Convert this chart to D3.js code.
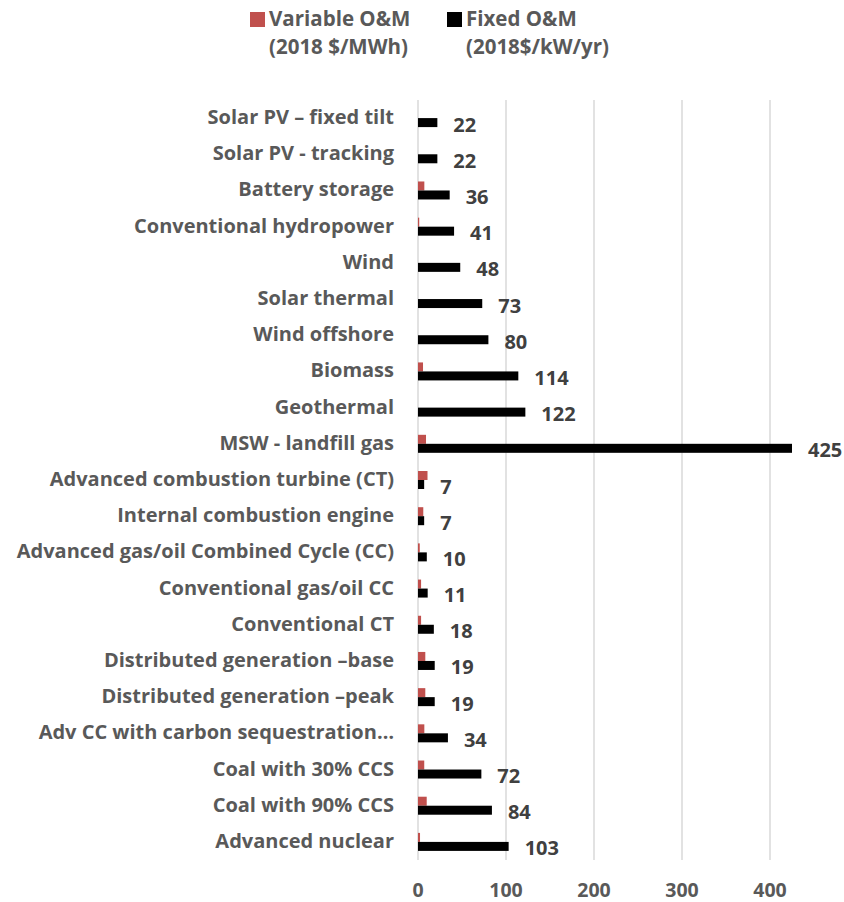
<!DOCTYPE html>
<html>
<head>
<meta charset="utf-8">
<script src="https://cdn.jsdelivr.net/npm/d3@7"></script>
<style>
  body { margin: 0; background: #fff; }
  svg text { font-family: "Open Sans", Lato, sans-serif; font-weight: bold; }
</style>
</head>
<body>
<div id="chart"></div>
<script>
let categories = [
  "Solar PV \u2013 fixed tilt",
  "Solar PV - tracking",
  "Battery storage",
  "Conventional hydropower",
  "Wind",
  "Solar thermal",
  "Wind offshore",
  "Biomass",
  "Geothermal",
  "MSW - landfill gas",
  "Advanced combustion turbine (CT)",
  "Internal combustion engine",
  "Advanced gas/oil Combined Cycle (CC)",
  "Conventional gas/oil CC",
  "Conventional CT",
  "Distributed generation \u2013base",
  "Distributed generation \u2013peak",
  "Adv CC with carbon sequestration\u2026",
  "Coal with 30% CCS",
  "Coal with 90% CCS",
  "Advanced nuclear",
];
let variableOM = [0, 0, 7.2, 1.4, 0, 0, 0, 5.7, 0, 9.1, 10.8, 6.0, 2.0, 3.5, 3.5, 8.3, 8.3, 7.2, 7.1, 9.9, 2.3];
let fixedOM = [22, 22, 36, 41, 48, 73, 80, 114, 122, 425, 7, 7, 10, 11, 18, 19, 19, 34, 72, 84, 103];
let xTicks = [0, 100, 200, 300, 400];

let width = 844;
let height = 902;
let plotLeft = 418, plotRight = 792, plotTop = 100, plotBottom = 860;

let svg = d3.select("#chart").append("svg")
  .attr("width", width)
  .attr("height", height);

let xScale = d3.scaleLinear().domain([0, 425]).range([plotLeft, plotRight]);
let yScale = d3.scaleBand().domain(categories).range([plotTop, plotBottom]);
let barH = 9;

// gridlines
svg.append("g")
  .selectAll("line")
  .data(xTicks)
  .enter()
  .append("line")
  .attr("x1", (d) => xScale(d))
  .attr("x2", (d) => xScale(d))
  .attr("y1", plotTop)
  .attr("y2", plotBottom)
  .attr("stroke", "#d9d9d9")
  .attr("stroke-width", 1.5);

// tick labels
svg.append("g")
  .selectAll("text")
  .data(xTicks)
  .enter()
  .append("text")
  .attr("x", (d) => xScale(d))
  .attr("y", 890)
  .attr("dy", "0.35em")
  .attr("text-anchor", "middle")
  .attr("fill", "#595959")
  .attr("font-size", 19.5)
  .text((d) => d);

// category labels
svg.append("g")
  .selectAll("text")
  .data(categories)
  .enter()
  .append("text")
  .attr("x", 394)
  .attr("y", (d) => yScale(d) + yScale.bandwidth() / 2 - 1)
  .attr("dy", "0.35em")
  .attr("text-anchor", "end")
  .attr("fill", "#595959")
  .attr("font-size", 20)
  .text((d) => d);

// variable O&M bars
svg.append("g")
  .selectAll("rect")
  .data(variableOM)
  .enter()
  .append("rect")
  .attr("x", xScale(0))
  .attr("y", (d, i) => yScale(categories[i]) + yScale.bandwidth() / 2 - barH)
  .attr("width", (d) => xScale(d) - xScale(0))
  .attr("height", barH)
  .attr("fill", "#c0504d");

// fixed O&M bars
svg.append("g")
  .selectAll("rect")
  .data(fixedOM)
  .enter()
  .append("rect")
  .attr("x", xScale(0))
  .attr("y", (d, i) => yScale(categories[i]) + yScale.bandwidth() / 2)
  .attr("width", (d) => xScale(d) - xScale(0))
  .attr("height", barH)
  .attr("fill", "#000");

// fixed value labels
svg.append("g")
  .selectAll("text")
  .data(fixedOM)
  .enter()
  .append("text")
  .attr("x", (d) => xScale(d) + 16)
  .attr("y", (d, i) => yScale(categories[i]) + yScale.bandwidth() / 2 + barH / 2 + 2)
  .attr("dy", "0.35em")
  .attr("fill", "#404040")
  .attr("font-size", 20)
  .text((d) => d3.format(".0f")(d));

// legend
let legendItems = [
  { color: "#c0504d", lines: ["Variable O&M", "(2018 $/MWh)"], x: 250 },
  { color: "#000", lines: ["Fixed O&M", "(2018$/kW/yr)"], x: 447 },
];
let legend = svg.append("g").attr("id", "legend");
legendItems.forEach(function (item) {
  legend.append("rect")
    .attr("x", item.x)
    .attr("y", 12)
    .attr("width", 15)
    .attr("height", 15)
    .attr("fill", item.color);
  legend.append("text")
    .attr("x", item.x + 19)
    .attr("y", 19)
    .attr("dy", "0.35em")
    .attr("fill", "#595959")
    .attr("font-size", 20.5)
    .text(item.lines[0]);
  legend.append("text")
    .attr("x", item.x + 19)
    .attr("y", 47)
    .attr("dy", "0.35em")
    .attr("fill", "#595959")
    .attr("font-size", 20.5)
    .text(item.lines[1]);
});
</script>
</body>
</html>
